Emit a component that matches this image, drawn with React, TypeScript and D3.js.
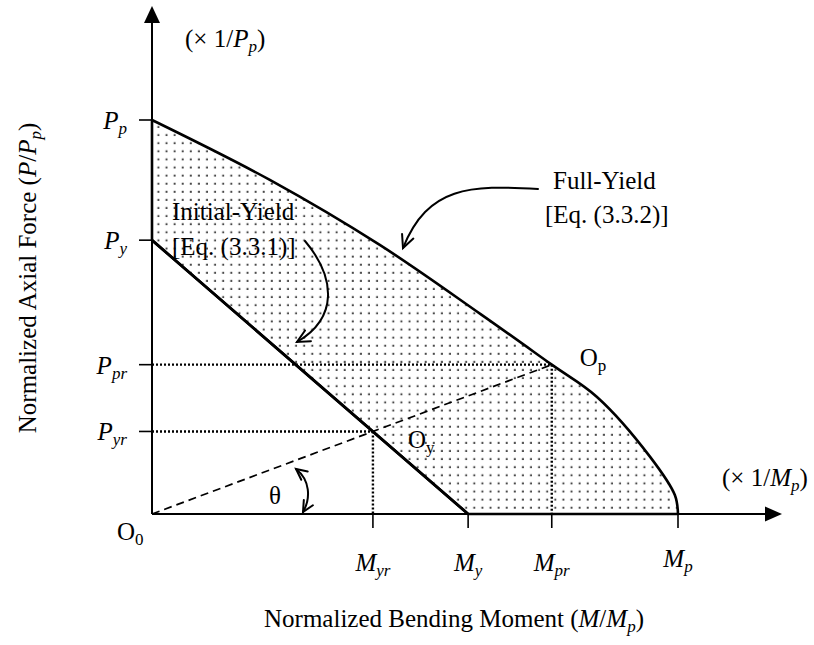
import React from "react";
import * as d3 from "d3";

// Full-yield interaction curve (normalized M/Mp, P/Pp)
const fullYieldM = [0, 0.224, 0.433, 0.624, 0.76, 0.846, 0.947, 0.994, 1];
const fullYieldP = [1, 0.848, 0.683, 0.508, 0.379, 0.297, 0.145, 0.048, 0];

// Initial-yield line end points
const initialYieldM = [0, 0.601];
const initialYieldP = [0.695, 0];

// Proportional load path: O0 -> Oy -> Op
const loadPathM = [0, 0.42, 0.76];
const loadPathP = [0, 0.2095, 0.379];

// Axis tick labels
const forceTickSubs = ["p", "y", "pr", "yr"];
const forceTickValues = [1, 0.695, 0.379, 0.2095];
const momentTickSubs = ["yr", "y", "pr", "p"];
const momentTickValues = [0.42, 0.601, 0.76, 1];

const FONT = "'Liberation Serif', 'Times New Roman', serif";

export default function App() {
  const W = 814;
  const H = 645;
  const x = d3.scaleLinear().domain([0, 1]).range([152, 678]);
  const y = d3.scaleLinear().domain([0, 1]).range([514, 120]);

  const line = d3
    .line<[number, number]>()
    .x((d) => x(d[0]))
    .y((d) => y(d[1]));
  const smooth = d3
    .line<[number, number]>()
    .x((d) => x(d[0]))
    .y((d) => y(d[1]))
    .curve(d3.curveCatmullRom.alpha(0.5));

  const fullPts: [number, number][] = fullYieldM.map((m, i) => [m, fullYieldP[i]]);
  const initPts: [number, number][] = initialYieldM.map((m, i) => [m, initialYieldP[i]]);

  // Elastic-plastic zone bounded by both yield curves and the axes
  const fullPath = smooth(fullPts) || "";
  const zonePath =
    `M${x(0)},${y(initialYieldP[0])}` +
    "L" + fullPath.slice(1) +
    `L${x(initialYieldM[1])},${y(0)}Z`;

  const x0 = x(0);
  const y0 = y(0);
  const yTop = 6;
  const xEnd = 782;

  const [oyM, opM] = [loadPathM[1], loadPathM[2]];
  const [oyP, opP] = [loadPathP[1], loadPathP[2]];

  // open V arrow head at (tx,ty) pointing along (dx,dy)
  const arrowHead = (tx: number, ty: number, dx: number, dy: number, len = 14, ang = 0.45) => {
    const a = Math.atan2(dy, dx);
    const p1 = [tx - len * Math.cos(a - ang), ty - len * Math.sin(a - ang)];
    const p2 = [tx - len * Math.cos(a + ang), ty - len * Math.sin(a + ang)];
    return `M${p1[0]},${p1[1]}L${tx},${ty}L${p2[0]},${p2[1]}`;
  };

  const textStyle = { fontFamily: FONT, fontSize: 25, fill: "#000" } as const;

  return (
    <svg
      width={W}
      height={H}
      style={{ position: "absolute", left: 0, top: 0, background: "#fff" }}
    >
      <defs>
        <pattern id="dots" patternUnits="userSpaceOnUse" width={8.1} height={8.1} x={1} y={2}>
          <rect x={2.5} y={2.5} width={2} height={2} fill="#4a4a4a" />
        </pattern>
      </defs>

      {/* shaded elastic-plastic zone */}
      <path d={zonePath} fill="url(#dots)" stroke="#000" strokeWidth={2.6} strokeLinejoin="round" />

      {/* initial-yield line */}
      <path d={line(initPts) || ""} fill="none" stroke="#000" strokeWidth={2.8} />

      {/* dotted projections */}
      <g stroke="#000" strokeWidth={2.4} strokeDasharray="2,2" fill="none">
        <line x1={x0} y1={y(opP)} x2={x(opM)} y2={y(opP)} />
        <line x1={x(opM)} y1={y(opP)} x2={x(opM)} y2={y0} />
        <line x1={x0} y1={y(oyP)} x2={x(oyM)} y2={y(oyP)} />
        <line x1={x(oyM)} y1={y(oyP)} x2={x(oyM)} y2={y0} />
      </g>

      {/* proportional load path */}
      <line
        x1={x(loadPathM[0])}
        y1={y(loadPathP[0])}
        x2={x(opM)}
        y2={y(opP)}
        stroke="#000"
        strokeWidth={1.7}
        strokeDasharray="8,5"
      />

      {/* axes */}
      <g stroke="#000" strokeWidth={2}>
        <line x1={x0} y1={y0} x2={x0} y2={yTop + 14} />
        <line x1={x0} y1={y0} x2={xEnd - 16} y2={y0} />
      </g>
      <path d={`M${x0},${yTop}L${x0 - 8},${yTop + 17}L${x0 + 8},${yTop + 17}Z`} fill="#000" />
      <path d={`M${xEnd},${y0}L${xEnd - 17},${y0 - 7.5}L${xEnd - 17},${y0 + 7.5}Z`} fill="#000" />

      {/* ticks */}
      <g stroke="#000" strokeWidth={1.6}>
        {forceTickValues.map((v, i) => (
          <line key={"fy" + i} x1={x0 - 13} x2={x0} y1={y(v)} y2={y(v)} />
        ))}
        {momentTickValues.map((v, i) => (
          <line key={"mx" + i} x1={x(v)} x2={x(v)} y1={y0} y2={y0 + 14} />
        ))}
      </g>

      {/* tick labels */}
      <g style={textStyle} fontSize={24} fontStyle="italic">
        {forceTickValues.map((v, i) => (
          <text key={"fl" + i} x={127} y={y(v) + 9} textAnchor="end">
            P<tspan fontSize={17} dy={5}>{forceTickSubs[i]}</tspan>
          </text>
        ))}
        {momentTickValues.map((v, i) => (
          <text key={"ml" + i} x={x(v)} y={momentTickSubs[i] === "p" ? 567 : 571} textAnchor="middle">
            M<tspan fontSize={17} dy={5}>{momentTickSubs[i]}</tspan>
          </text>
        ))}
      </g>

      {/* scale notes */}
      <text x={185} y={47} style={textStyle}>
        (× 1/<tspan fontStyle="italic">P</tspan>
        <tspan fontStyle="italic" fontSize={17} dy={5}>p</tspan>
        <tspan dy={-5}>)</tspan>
      </text>
      <text x={722} y={486} style={textStyle}>
        (× 1/<tspan fontStyle="italic">M</tspan>
        <tspan fontStyle="italic" fontSize={17} dy={5}>p</tspan>
        <tspan dy={-5}>)</tspan>
      </text>

      {/* point labels */}
      <text x={117} y={540} style={textStyle}>
        O<tspan fontSize={17} dy={5}>0</tspan>
      </text>
      <text x={x(oyM) + 35} y={448} style={textStyle}>
        O<tspan fontSize={17} dy={5}>y</tspan>
      </text>
      <text x={x(opM) + 28} y={366} style={textStyle}>
        O<tspan fontSize={17} dy={5}>p</tspan>
      </text>
      <text x={269} y={504} style={textStyle}>θ</text>

      {/* curve annotations */}
      <text x={553} y={189} style={textStyle}>Full-Yield</text>
      <text x={545} y={223} style={textStyle}>[Eq. (3.3.2)]</text>
      <text x={172} y={220} style={textStyle}>Initial-Yield</text>
      <text x={172} y={255} style={textStyle}>[Eq. (3.3.1)]</text>

      <g fill="none" stroke="#000" strokeWidth={2} strokeLinecap="round">
        <path d="M538,189 C470,185 428,186 403,248" />
        <path d={arrowHead(403, 248, -25, 62)} />
        <path d="M305,241 C336,278 338,318 297,342" />
        <path d={arrowHead(297, 342, -43, 24)} />
        <path d="M296,469 C310,480 311,498 303,512" />
        <path d={arrowHead(296, 469, -14, -11, 12)} />
        <path d={arrowHead(303, 512, -8, 14, 12)} />
      </g>

      {/* axis titles */}
      <text x={454} y={627} style={textStyle} textAnchor="middle">
        Normalized Bending Moment (<tspan fontStyle="italic">M</tspan>/<tspan fontStyle="italic">M</tspan>
        <tspan fontStyle="italic" fontSize={17} dy={5}>p</tspan>
        <tspan dy={-5}>)</tspan>
      </text>
      <text
        transform={`translate(36,278) rotate(-90)`}
        style={textStyle}
        textAnchor="middle"
      >
        Normalized Axial Force (<tspan fontStyle="italic">P</tspan>/<tspan fontStyle="italic">P</tspan>
        <tspan fontStyle="italic" fontSize={17} dy={5}>p</tspan>
        <tspan dy={-5}>)</tspan>
      </text>
    </svg>
  );
}
